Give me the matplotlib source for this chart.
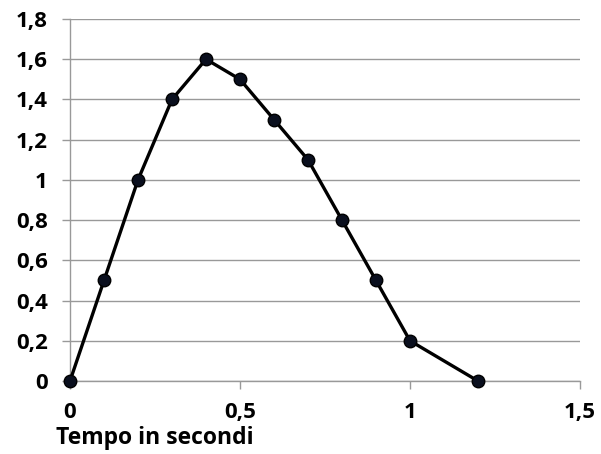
import matplotlib.pyplot as plt
from matplotlib.ticker import FuncFormatter

tempo = [0, 0.1, 0.2, 0.3, 0.4, 0.5, 0.6, 0.7, 0.8, 0.9, 1.0, 1.2]
valori = [0, 0.5, 1.0, 1.4, 1.6, 1.5, 1.3, 1.1, 0.8, 0.5, 0.2, 0]
x_ticks = [0, 0.5, 1, 1.5]
y_ticks = [0, 0.2, 0.4, 0.6, 0.8, 1.0, 1.2, 1.4, 1.6, 1.8]

plt.rcParams['font.family'] = ['Open Sans', 'DejaVu Sans']

fig = plt.figure(figsize=(6.01, 4.54), dpi=100)
ax = fig.add_axes([70 / 601, 73 / 454, 510 / 601, 362 / 454])

ax.plot(tempo, valori, color='black', linewidth=2.4, marker='o',
        markersize=9, markerfacecolor='#0a0f1e', markeredgecolor='black',
        zorder=4, clip_on=False)

ax.set_xlim(0, 1.5)
ax.set_ylim(0, 1.8)
ax.set_xticks(x_ticks)
ax.set_yticks(y_ticks)

fmt = FuncFormatter(lambda v, p: ('%g' % round(v, 2)).replace('.', ','))
ax.xaxis.set_major_formatter(fmt)
ax.yaxis.set_major_formatter(fmt)

ax.grid(axis='y', color='#999999', linewidth=1)
ax.set_axisbelow(True)
for s in ['top', 'right']:
    ax.spines[s].set_visible(False)
for s in ['left', 'bottom']:
    ax.spines[s].set_color('#999999')
    ax.spines[s].set_linewidth(1)

ax.tick_params(axis='both', colors='#999999', length=6, width=1,
               labelcolor='black', labelsize=16)
ax.tick_params(axis='x', pad=9)
ax.tick_params(axis='y', pad=10)
for lbl in ax.get_xticklabels() + ax.get_yticklabels():
    lbl.set_fontweight('bold')

ax.set_xlabel('Tempo in secondi', fontsize=16.5, fontweight='bold', ha='left')
ax.xaxis.set_label_coords(-0.027, -0.158)
ax.xaxis.label.set_va('center')

fig.savefig('out.png', dpi=100)
